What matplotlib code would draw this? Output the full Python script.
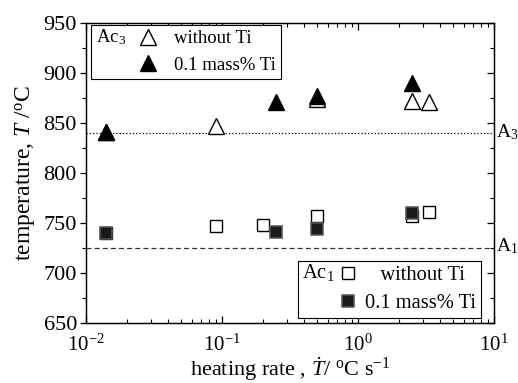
import matplotlib
matplotlib.use('Agg')
import matplotlib.pyplot as plt
from matplotlib.legend_handler import HandlerBase
from matplotlib.lines import Line2D
from matplotlib.text import Text
from matplotlib.ticker import LogLocator, MultipleLocator, NullFormatter
import matplotlib.transforms as mtransforms

plt.rcParams['font.family'] = 'Liberation Serif'
plt.rcParams['mathtext.fontset'] = 'custom'
plt.rcParams['mathtext.rm'] = 'Liberation Serif'
plt.rcParams['mathtext.it'] = 'Liberation Serif:italic'
plt.rcParams['mathtext.bf'] = 'Liberation Serif:bold'

# Ac3 (triangles)
ac3_wo_rate = [0.014, 0.09, 0.5, 2.5, 3.3]
ac3_wo_T = [841, 847, 874, 872, 871]
ac3_ti_rate = [0.014, 0.25, 0.5, 2.5]
ac3_ti_T = [841, 871, 877, 890]

# Ac1 (squares)
ac1_wo_rate = [0.014, 0.09, 0.2, 0.5, 2.5, 3.3]
ac1_wo_T = [740, 747, 748, 757, 757, 761]
ac1_ti_rate = [0.014, 0.25, 0.5, 2.5]
ac1_ti_T = [740, 741, 744, 760]

# equilibrium temperatures
A3 = 840
A1 = 725


class TextKey(HandlerBase):
    # draws a text string in place of a legend key
    def create_artists(self, legend, orig_handle, xdescent, ydescent,
                       width, height, fontsize, trans):
        t = Text(-xdescent, -ydescent + height / 2, orig_handle.get_text(),
                 fontsize=fontsize, va='center', ha='left', transform=trans)
        return [t]


fig = plt.figure(figsize=(5.18, 3.83), dpi=100)
ax = fig.add_axes([86 / 518, 1 - 323 / 383, 408 / 518, 300 / 383])

ax.axhline(A3, color='black', linestyle=':', linewidth=0.9)
ax.axhline(A1, color='#333333', linestyle=(0, (4, 2.5)), linewidth=0.9)

tri_open = dict(marker='^', ms=11.5, mfc='white', mec='black', mew=1.0, linestyle='none')
tri_fill = dict(marker='^', ms=11.5, mfc='black', mec='black', mew=1.0, linestyle='none')
sq_open = dict(marker='s', ms=8.5, mfc='white', mec='black', mew=1.0, linestyle='none')
sq_fill = dict(marker='s', ms=8.5, mfc='#1a1a1a', mec='#555555', mew=1.1, linestyle='none')

ax.plot(ac3_wo_rate, ac3_wo_T, **tri_open)
ax.plot(ac3_ti_rate, ac3_ti_T, **tri_fill)
ax.plot(ac1_wo_rate, ac1_wo_T, **sq_open)
ax.plot(ac1_ti_rate, ac1_ti_T, **sq_fill)

ax.set_xscale('log')
ax.set_xlim(0.01, 10)
ax.set_ylim(650, 950)
ax.yaxis.set_major_locator(MultipleLocator(50))
ax.yaxis.set_minor_locator(MultipleLocator(25))
ax.xaxis.set_minor_locator(LogLocator(base=10, subs=range(2, 10)))
ax.xaxis.set_minor_formatter(NullFormatter())

ax.tick_params(axis='x', which='both', direction='in', top=True, labelsize=15, pad=8)
ax.tick_params(axis='x', which='major', length=5, width=0.9)
ax.tick_params(axis='x', which='minor', length=3, width=0.8)
ax.tick_params(axis='y', which='both', direction='out', right=False, labelsize=16, pad=2)
ax.tick_params(axis='y', which='major', length=4.5, width=0.9)
ax.tick_params(axis='y', which='minor', length=3, width=0.8)

ax_r = ax.twinx()
ax_r.set_ylim(ax.get_ylim())
ax_r.yaxis.set_major_locator(MultipleLocator(50))
ax_r.yaxis.set_minor_locator(MultipleLocator(25))
ax_r.tick_params(axis='y', which='both', direction='in', labelright=False)
ax_r.tick_params(axis='y', which='major', length=5, width=0.9)
ax_r.tick_params(axis='y', which='minor', length=3, width=0.8)

for a in (ax, ax_r):
    for s in a.spines.values():
        s.set_linewidth(0.9)

ax.set_xlabel(r'heating rate , $\dot{T}$/ $^{\rm o}$C s$^{-1}$', fontsize=16, labelpad=0)
ax.set_ylabel(r'temperature, $T$ /$^{\rm o}$C', fontsize=17, labelpad=4)

trans = mtransforms.blended_transform_factory(ax.transAxes, ax.transData)
ax.text(1.005, A3 + 1, r'A$_3$', transform=trans, fontsize=14, va='center', ha='left')
ax.text(1.005, A1 + 2, r'A$_1$', transform=trans, fontsize=14, va='center', ha='left')

# legends
blank = Text(text='')
leg1 = ax.legend([Text(text='Ac$_3$'), blank, Line2D([], [], **tri_open), Line2D([], [], **tri_fill)],
                 ['', '', 'without Ti', '0.1 mass% Ti'], ncol=2,
                 handler_map={Text: TextKey()}, loc='upper left',
                 bbox_to_anchor=(0.012, 0.993), borderaxespad=0, fontsize=13.5,
                 handlelength=1.4, handletextpad=0.68, columnspacing=0.0,
                 labelspacing=0.5, borderpad=0.28, fancybox=False,
                 edgecolor='black', framealpha=1)
leg1.get_frame().set_linewidth(0.8)
ax.add_artist(leg1)

leg2 = ax.legend([Text(text='Ac$_1$'), blank, Line2D([], [], **sq_open), Line2D([], [], **sq_fill)],
                 ['', '', '   without Ti', '0.1 mass% Ti'], ncol=2,
                 handler_map={Text: TextKey()}, loc='lower right',
                 bbox_to_anchor=(0.968, 0.017), borderaxespad=0, fontsize=14.8,
                 handlelength=1.3, handletextpad=0.18, columnspacing=0.11,
                 labelspacing=0.45, borderpad=0.22, fancybox=False,
                 edgecolor='black', framealpha=1)
leg2.get_frame().set_linewidth(0.8)

fig.savefig('out.png', dpi=100)
